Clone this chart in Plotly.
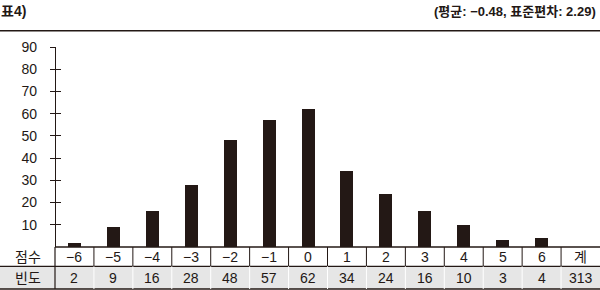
import plotly.graph_objects as go

# ---- data ----
score_labels = ["−6", "−5", "−4", "−3", "−2", "−1", "0", "1", "2", "3", "4", "5", "6"]
frequencies = [2, 9, 16, 28, 48, 57, 62, 34, 24, 16, 10, 3, 4]
total_label = "계"
total_value = 313
row_labels = ["점수", "빈도"]
y_ticks = [10, 20, 30, 40, 50, 60, 70, 80, 90]
title_text = "표4)"
stats_text = "(평균: −0.48, 표준편차: 2.29)"

# ---- style / layout ----
INK = "#231815"
GRAY = "#e6e6e6"
FONT = "Liberation Sans, Arial, Noto Sans CJK KR, sans-serif"
W, H = 600, 290
M_T, M_B = 47, 43
plot_h = H - M_T - M_B
label_w = 55
ncols = len(score_labels) + 1
col_w = (W - label_w) / ncols
x_lo = -0.5 - label_w / col_w
x_hi = ncols - 0.5


def py(px):
    """pixel row -> paper y"""
    return (H - M_B - px) / plot_h


row1_bot = py(266.3)
row2_bot = py(289)
row1_mid = py(256.7)
row2_mid = py(277.7)

fig = go.Figure()
fig.add_bar(
    x=list(range(len(frequencies))), y=frequencies,
    marker=dict(color=INK, line=dict(width=0)),
    width=13 / col_w, hoverinfo="skip", showlegend=False,
)
# invisible trace to activate the overlaying axis (crossing ticks)
fig.add_scatter(x=[0], y=[0], yaxis="y2", mode="markers",
                marker=dict(opacity=0), hoverinfo="skip", showlegend=False)

shapes = []
# gray row 2 background
shapes.append(dict(type="rect", xref="x", yref="paper", x0=x_lo, x1=x_hi,
                   y0=row2_bot, y1=row1_bot, fillcolor=GRAY, line=dict(width=0),
                   layer="below"))
# baseline
shapes.append(dict(type="line", xref="x", yref="paper", x0=-0.5, x1=x_hi,
                   y0=0, y1=0, line=dict(color=INK, width=1.3)))
# row separators
for yy in (row1_bot, row2_bot):
    shapes.append(dict(type="line", xref="x", yref="paper", x0=x_lo, x1=x_hi,
                       y0=yy, y1=yy, line=dict(color=INK, width=1.3)))
# axis continuation through table
shapes.append(dict(type="line", xref="x", yref="paper", x0=-0.5, x1=-0.5,
                   y0=0, y1=row2_bot, line=dict(color=INK, width=1.2)))
# column separators
for i in range(ncols - 1):
    xx = i + 0.5
    shapes.append(dict(type="line", xref="x", yref="paper", x0=xx, x1=xx,
                       y0=0, y1=row1_bot, line=dict(color=INK, width=1)))
    shapes.append(dict(type="line", xref="x", yref="paper", x0=xx, x1=xx,
                       y0=row1_bot, y1=row2_bot, line=dict(color="white", width=1)))
# top rule
shapes.append(dict(type="line", xref="paper", yref="paper", x0=0, x1=1,
                   y0=py(30.7), y1=py(30.7), line=dict(color=INK, width=1.5)))

ann = []
tf = dict(family=FONT, size=14, color=INK)
label_x = (x_lo - 0.5) / 2
ann.append(dict(x=label_x, y=row1_mid, xref="x", yref="paper", text=row_labels[0],
                showarrow=False, font=tf, xanchor="center", yanchor="middle"))
ann.append(dict(x=label_x, y=row2_mid, xref="x", yref="paper", text=row_labels[1],
                showarrow=False, font=tf, xanchor="center", yanchor="middle"))
for i, (lab, f) in enumerate(zip(score_labels, frequencies)):
    ann.append(dict(x=i, y=row1_mid, xref="x", yref="paper", text=lab,
                    showarrow=False, font=tf, xanchor="center", yanchor="middle"))
    ann.append(dict(x=i, y=row2_mid, xref="x", yref="paper", text=str(f),
                    showarrow=False, font=tf, xanchor="center", yanchor="middle"))
ann.append(dict(x=ncols - 1, y=row1_mid, xref="x", yref="paper", text=total_label,
                showarrow=False, font=tf, xanchor="center", yanchor="middle"))
ann.append(dict(x=ncols - 1, y=row2_mid, xref="x", yref="paper", text=str(total_value),
                showarrow=False, font=tf, xanchor="center", yanchor="middle"))
# title + stats
ann.append(dict(x=0, y=py(11), xref="paper", yref="paper", text="<b>" + title_text + "</b>",
                showarrow=False, font=dict(family=FONT, size=14, color=INK),
                xanchor="left", yanchor="middle", borderpad=0))
ann.append(dict(x=597 / W, y=py(11), xref="paper", yref="paper", text="<b>" + stats_text + "</b>",
                showarrow=False, font=dict(family=FONT, size=13, color=INK),
                xanchor="right", yanchor="middle", borderpad=0))

axis_common = dict(range=[0, 90], tickvals=y_ticks, ticklen=5, tickwidth=1.2,
                   tickcolor=INK, showgrid=False, zeroline=False,
                   anchor="free", position=label_w / W)

fig.update_layout(
    width=W, height=H,
    margin=dict(l=0, r=0, t=M_T, b=M_B, pad=0),
    paper_bgcolor="white", plot_bgcolor="rgba(0,0,0,0)",
    font=dict(family=FONT, color=INK),
    xaxis=dict(range=[x_lo, x_hi], visible=False, fixedrange=True),
    yaxis=dict(**axis_common, ticks="outside", showline=True, linecolor=INK,
               linewidth=1.2, tickfont=dict(family=FONT, size=14, color=INK),
               ticklabelstandoff=10),
    yaxis2=dict(**axis_common, ticks="inside", overlaying="y", showline=False,
                showticklabels=False),
    shapes=shapes, annotations=ann,
    bargap=0, showlegend=False,
)

fig.write_html("out.html")
